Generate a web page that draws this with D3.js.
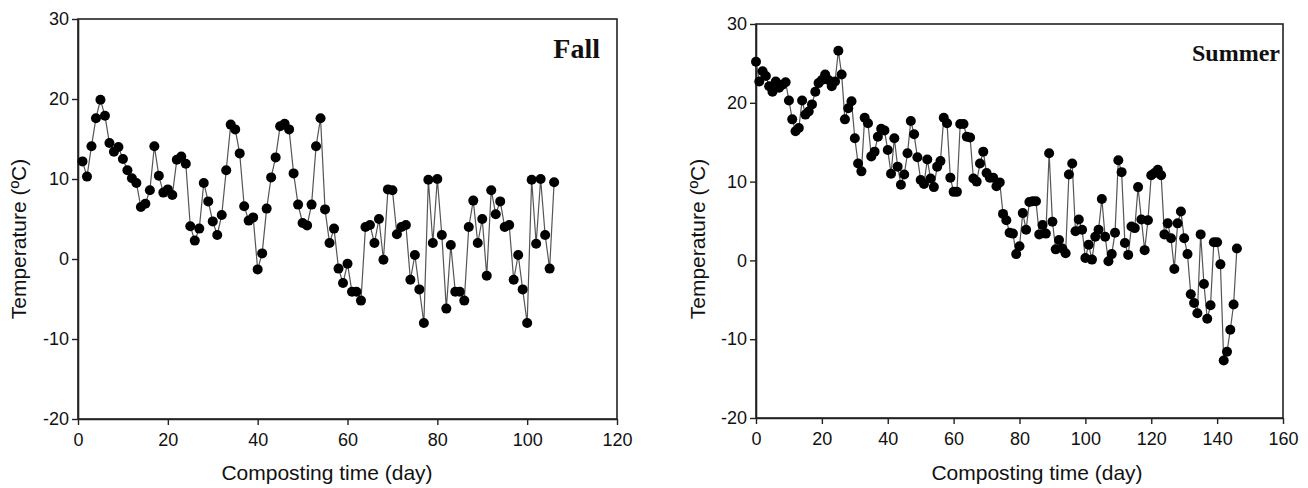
<!DOCTYPE html>
<html>
<head>
<meta charset="utf-8">
<script src="https://cdn.jsdelivr.net/npm/d3@7"></script>
<style>
  body { margin: 0; background: #fff; }
  svg text { font-family: "Liberation Sans", Arial, sans-serif; fill: #111; }
  .title { font-family: "Liberation Serif", "Times New Roman", serif !important; font-weight: bold; }
</style>
</head>
<body>
<svg width="1308" height="488"></svg>
<script>
// Fall series: temperature (ºC) by day 1..106
const fallDays = d3.range(1, 107);
const fallTemp = [
  12.2, 10.3, 14.1, 17.6, 19.9, 17.9, 14.5, 13.4, 14.0, 12.5,
  11.1, 10.1, 9.5, 6.5, 6.9, 8.6, 14.1, 10.4, 8.3, 8.7,
  8.0, 12.4, 12.8, 11.9, 4.1, 2.3, 3.8, 9.5, 7.2, 4.7,
  3.0, 5.5, 11.1, 16.8, 16.2, 13.2, 6.6, 4.8, 5.2, -1.3,
  0.7, 6.3, 10.2, 12.7, 16.6, 16.9, 16.2, 10.7, 6.8, 4.5,
  4.2, 6.8, 14.1, 17.6, 6.2, 2.0, 3.8, -1.2, -3.0, -0.6,
  -4.1, -4.1, -5.2, 4.0, 4.25, 2.0, 5.0, -0.1, 8.7, 8.6,
  3.1, 4.0, 4.25, -2.6, 0.5, -3.8, -8.0, 9.9, 2.0, 10.0,
  3.0, -6.2, 1.75, -4.1, -4.1, -5.2, 4.0, 7.3, 2.0, 5.0,
  -2.1, 8.6, 5.6, 7.2, 4.0, 4.25, -2.6, 0.5, -3.8, -8.0,
  9.9, 1.9, 10.0, 3.0, -1.2, 9.6
];

// Summer series: temperature (ºC) by day 0..146
const summerDays = d3.range(0, 147);
const summerTemp = [
  25.2, 22.7, 24.0, 23.4, 22.1, 21.4, 22.7, 21.9, 22.3, 22.6,
  20.3, 17.9, 16.4, 16.8, 20.3, 18.5, 18.9, 19.8, 21.4, 22.5,
  22.9, 23.6, 22.9, 22.1, 22.7, 26.6, 23.6, 17.9, 19.3, 20.2,
  15.5, 12.3, 11.3, 18.1, 17.4, 13.2, 13.8, 15.7, 16.7, 16.5,
  14.0, 11.0, 15.5, 11.9, 9.6, 10.9, 13.6, 17.7, 16.0, 13.1,
  10.2, 9.7, 12.8, 10.4, 9.3, 11.9, 12.6, 18.1, 17.4, 10.5,
  8.7, 8.7, 17.3, 17.3, 15.7, 15.6, 10.4, 10.0, 12.3, 13.8,
  11.1, 10.5, 10.5, 9.4, 9.9, 5.9, 5.1, 3.5, 3.4, 0.8,
  1.8, 6.0, 3.9, 7.4, 7.5, 7.5, 3.3, 4.5, 3.4, 13.6,
  4.9, 1.4, 2.6, 1.5, 0.9, 10.9, 12.3, 3.7, 5.2, 3.9,
  0.3, 2.0, 0.1, 3.0, 3.9, 7.8, 3.0, -0.1, 0.8, 3.5,
  12.7, 11.2, 2.2, 0.7, 4.3, 4.1, 9.3, 5.2, 1.3, 5.1,
  10.8, 11.1, 11.5, 10.8, 3.3, 4.7, 2.8, -1.1, 4.7, 6.2,
  2.8, 0.8, -4.3, -5.4, -6.7, 3.3, -3.0, -7.4, -5.7, 2.3,
  2.3, -0.5, -12.7, -11.6, -8.8, -5.6, 1.5
];

const yTicks = [-20, -10, 0, 10, 20, 30];
const fallXTicks = [0, 20, 40, 60, 80, 100, 120];
const summerXTicks = [0, 20, 40, 60, 80, 100, 120, 140, 160];

const svg = d3.select("svg");

function drawPanel(opt) {
  const x = d3.scaleLinear().domain(opt.xDomain).range([opt.left, opt.right]);
  const y = d3.scaleLinear().domain([-20, 30]).range([opt.bottom, opt.top]);
  const g = svg.append("g");
  const fmt = function (d) { return String(d); };

  // frame
  g.append("rect")
    .attr("x", opt.left).attr("y", opt.top)
    .attr("width", opt.right - opt.left).attr("height", opt.bottom - opt.top)
    .attr("fill", "none").attr("stroke", "#222").attr("stroke-width", 1.6);

  const yAxis = g.append("g")
    .attr("transform", "translate(" + opt.left + ",0)")
    .call(d3.axisLeft(y).tickValues(yTicks).tickFormat(fmt).tickSize(6).tickSizeOuter(0).tickPadding(3));
  const xAxis = g.append("g")
    .attr("transform", "translate(0," + opt.bottom + ")")
    .call(d3.axisBottom(x).tickValues(opt.xTicks).tickFormat(fmt).tickSize(6).tickSizeOuter(0).tickPadding(8));
  [yAxis, xAxis].forEach(function (a) {
    a.select(".domain").attr("stroke", "#222").attr("stroke-width", 1.6);
    a.selectAll(".tick line").attr("stroke", "#222").attr("stroke-width", 1.4);
    a.selectAll(".tick text").style("font-size", "18px").attr("fill", "#111");
  });

  const pts = opt.days.map(function (d, i) { return [d, opt.temp[i]]; });

  g.append("path")
    .datum(pts)
    .attr("fill", "none")
    .attr("stroke", "#555")
    .attr("stroke-width", 1.2)
    .attr("d", d3.line().x(function (d) { return x(d[0]); }).y(function (d) { return y(d[1]); }));

  g.selectAll("circle")
    .data(pts)
    .enter().append("circle")
    .attr("cx", function (d) { return x(d[0]); })
    .attr("cy", function (d) { return y(d[1]); })
    .attr("r", 5)
    .attr("fill", "#000");

  g.append("text")
    .attr("class", "title")
    .attr("x", opt.titleX).attr("y", opt.titleY)
    .attr("text-anchor", "end")
    .style("font-size", opt.titleSize + "px")
    .text(opt.title);

  g.append("text")
    .attr("x", opt.xTitleX).attr("y", 480)
    .attr("text-anchor", "middle")
    .style("font-size", "21px")
    .text("Composting time (day)");

  g.append("text")
    .attr("transform", "translate(" + opt.yTitleX + ",239) rotate(-90)")
    .attr("text-anchor", "middle")
    .style("font-size", "21px")
    .text("Temperature (ºC)");
}

drawPanel({
  left: 78, right: 617, top: 19, bottom: 419,
  xDomain: [0, 120], xTicks: fallXTicks,
  days: fallDays, temp: fallTemp,
  title: "Fall", titleX: 600, titleY: 58, titleSize: 28,
  xTitleX: 327, yTitleX: 26
});

drawPanel({
  left: 756, right: 1283, top: 24, bottom: 418,
  xDomain: [0, 160], xTicks: summerXTicks,
  days: summerDays, temp: summerTemp,
  title: "Summer", titleX: 1280, titleY: 61, titleSize: 24,
  xTitleX: 1037, yTitleX: 705
});
</script>
</body>
</html>
